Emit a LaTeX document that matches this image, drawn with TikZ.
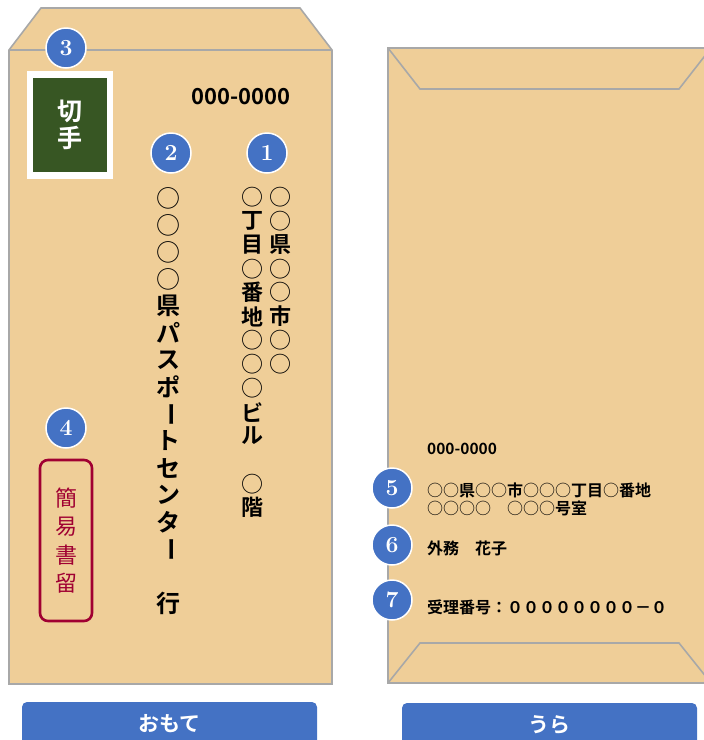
\documentclass[tikz,border=0pt]{standalone}
\usepackage{fontspec}
\usepackage{graphicx}
\newfontfamily\jpfont[BoldFont={Noto Sans CJK JP Bold}]{Noto Sans CJK JP}
\usetikzlibrary{positioning}
\definecolor{envfill}{RGB}{239,206,152}
\definecolor{envline}{RGB}{168,168,168}
\definecolor{numblue}{RGB}{68,114,196}
\definecolor{stampgreen}{RGB}{55,86,35}
\definecolor{kakired}{RGB}{160,0,50}
\newcommand{\chobar}{\rotatebox[origin=c]{-90}{ー}}
\newcommand{\maru}{{\mdseries ○}}

\begin{document}
\begin{tikzpicture}[
  x=1pt, y=-1pt,
  envelope/.style = {fill=envfill,draw=envline,line width=1.6pt},
  flap/.style = {draw=envline,line width=1.6pt},
  num/.style = {circle,fill=numblue,draw=white,line width=1.5pt,minimum size=40pt,inner sep=0pt,
                text=white,font=\bfseries\fontsize{23}{23}\selectfont},
  tate/.style = {inner sep=0pt,font=\jpfont\bfseries\fontsize{#1}{#1}\selectfont},
  yoko/.style = {anchor=west,inner sep=0pt,align=left,font=\jpfont\bfseries\fontsize{16}{18}\selectfont},
  tab/.style = {fill=numblue,rounded corners=5pt,minimum width=295pt,minimum height=44pt,inner sep=0pt,
                text=white,font=\jpfont\bfseries\fontsize{21}{21}\selectfont}
  ]
	\clip (0,0) rectangle (704,740);

	% omote
	\draw[envelope] (41,8) -- (300,8) -- (332,50) -- (332,684) -- (9,684) -- (9,50) -- cycle;
	\draw[flap] (9,50) -- (332,50);

	\node[draw=white,line width=6.5pt,fill=stampgreen,minimum width=80pt,minimum height=101pt,
	      text=white,align=center,font=\jpfont\bfseries\fontsize{25}{27}\selectfont] (kitte) at (70,125) {切\\手};

	\node[tate=22] (zip) at (241,97) {000-0000};

	\foreach \ch [count=\i from 0] in {\maru,\maru,\maru,\maru,県,パ,ス,ポ,\chobar,ト,セ,ン,タ,\chobar,　,行}
		\node[tate=24] (ate-\i) at (168,{198+\i*27}) {\ch};

	\foreach \ch [count=\i from 0] in {\maru,\maru,県,\maru,\maru,市,\maru,\maru}
		\node[tate=22] (jusho-a\i) at (280,{197+\i*23.9}) {\ch};
	\foreach \ch [count=\i from 0] in {\maru,丁,目,\maru,番,地,\maru,\maru,\maru,ビ,ル,　,\maru,階}
		\node[tate=22] (jusho-b\i) at (252,{197+\i*23.9}) {\ch};

	\node[draw=kakired,line width=2.6pt,rounded corners=8pt,minimum width=52pt,minimum height=161pt,
	      text=kakired,align=center,font=\jpfont\fontsize{22}{28.3}\selectfont] (kakitome) at (66,540.5) {簡\\易\\書\\留};

	\node[num] (n1) at (267,153) {1};
	\node[num] (n2) at (171,153) {2};
	\node[num] (n3) at (66,48) {3};
	\node[num] (n4) at (66,428) {4};

	% ura
	\draw[envelope] (388,48) rectangle (711,683);
	\draw[flap] (388,48) -- (420,89) -- (679,89) -- (711,48);
	\draw[flap] (388,683) -- (420,643) -- (679,643) -- (711,683);

	\node[yoko,font=\jpfont\bfseries\fontsize{15.5}{15.5}\selectfont] (zip-ura) at (427,449) {000-0000};
	\node[yoko] (addr) at (427,499) {\maru\maru 県\maru\maru 市\maru\maru\maru 丁目\maru 番地\\\maru\maru\maru\maru　\maru\maru\maru 号室};
	\node[yoko] (name) at (427,548) {外務　花子};
	\node[yoko] (bango) at (427,607) {受理番号：００００００００－０};

	\node[num] (n5) at (392,488) {5};
	\node[num] (n6) at (392,545) {6};
	\node[num] (n7) at (392,600) {7};

	\node[tab] (omote) at (169.5,724) {おもて};
	\node[tab] (ura) at (549.5,725) {うら};

\end{tikzpicture}
\end{document}
